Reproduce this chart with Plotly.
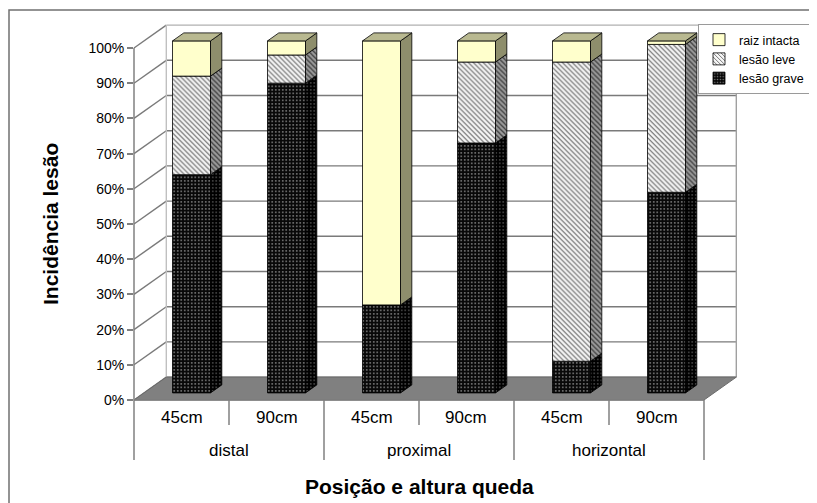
import plotly.graph_objects as go

# ---------------- data ----------------
categories = ["45cm", "90cm", "45cm", "90cm", "45cm", "90cm"]
groups = ["distal", "proximal", "horizontal"]
series_names = ["lesão grave", "lesão leve", "raiz intacta"]
grave = [62, 88, 25, 71, 9, 57]
leve = [28, 8, 0, 23, 85, 42]
intacta = [10, 4, 75, 6, 6, 1]
y_ticks = [0, 10, 20, 30, 40, 50, 60, 70, 80, 90, 100]
y_tick_labels = [f"{v}%" for v in y_ticks]
x_title = "Posição e altura queda"
y_title = "Incidência lesão"

# ---------------- geometry / style ----------------
W, H = 817, 503             # target window
OFF = 8                     # default page body margin
FW, FH = W - OFF, H - OFF   # figure size so that it fits the window
n = len(categories)
DX, DY = 0.34, 6.5          # depth of the 3D box (x in category units, y in %)
A, B = 0.31, 0.66           # bar front / back depth fraction
BW = 0.4                    # bar width (category units)
X_LO, X_HI = -0.5, n - 0.5 + DX
Y_LO, Y_HI = 0, 100 + DY
PX0, PXU = 134, 95          # window pixel of x=-0.5, pixels per category
PY0, PYU = 400, 3.52        # window pixel of y=0, pixels per %


def xpix(p):
    return (p - OFF) / FW


def ypix(p):
    return (H - p) / FH


dom_x = [xpix(PX0), xpix(PX0 + (X_HI - X_LO) * PXU)]
dom_y = [ypix(PY0), ypix(PY0 - (Y_HI - Y_LO) * PYU)]


def px(x):
    return dom_x[0] + (x - X_LO) / (X_HI - X_LO) * (dom_x[1] - dom_x[0])


def py(y):
    return dom_y[0] + (y - Y_LO) / (Y_HI - Y_LO) * (dom_y[1] - dom_y[0])


FONT = "Arial, Liberation Sans, sans-serif"
GRID = "#7a7a7a"

styles = {
    "lesão grave": dict(
        front=dict(shape=".", bgcolor="#080808", fgcolor="#7d7d7d", size=3.5, solidity=0.22),
        side=dict(shape=".", bgcolor="#000000", fgcolor="#4a4a4a", size=3.5, solidity=0.22),
        sidecolor="#000000", top="#3a3a3a"),
    "lesão leve": dict(
        front=dict(shape="\\", bgcolor="#f7f7f7", fgcolor="#606060", size=3.5, solidity=0.3),
        side=dict(shape="\\", bgcolor="#9c9c9c", fgcolor="#3a3a3a", size=3.5, solidity=0.35),
        sidecolor="#9c9c9c", top="#c8c8c8"),
    "raiz intacta": dict(front=None, color="#FFFFCC", side=None,
                         sidecolor="#8E8E6C", top="#B9B991"),
}

fig = go.Figure()

values = [grave, leve, intacta]
cum = [0] * n
xs = [i + A * DX for i in range(n)]
top_series = [None] * n
for name, vals in zip(series_names, values):
    st = styles[name]
    base = [c + A * DY for c in cum]
    marker = dict(line=dict(color="#000000", width=0.8))
    if st["front"] is not None:
        marker["color"] = st["front"]["bgcolor"]
        marker["pattern"] = dict(st["front"], fillmode="replace")
    else:
        marker["color"] = st["color"]
    fig.add_trace(go.Bar(x=xs, y=vals, base=base, width=BW, name=name,
                         marker=marker, hoverinfo="skip"))
    # right side faces
    sx, sy = [], []
    for i in range(n):
        if vals[i] <= 0:
            continue
        lo, hi = cum[i], cum[i] + vals[i]
        xr = i + BW / 2 + A * DX
        xr2 = i + BW / 2 + B * DX
        y0, y1 = lo + A * DY, hi + A * DY
        d = (B - A) * DY
        sx += [xr, xr2, xr2, xr, xr, None]
        sy += [y0, y0 + d, y1 + d, y1, y0, None]
        top_series[i] = name
    sc = dict(x=sx, y=sy, fill="toself", mode="lines",
              line=dict(color="#000000", width=0.8),
              fillcolor=st["sidecolor"], showlegend=False, hoverinfo="skip")
    if st["side"] is not None:
        sc["fillpattern"] = dict(st["side"], fillmode="replace")
    fig.add_trace(go.Scatter(**sc))
    cum = [c + v for c, v in zip(cum, vals)]

# top faces
for name in series_names:
    tx, ty = [], []
    for i in range(n):
        if top_series[i] != name:
            continue
        xl = i - BW / 2 + A * DX
        xr = i + BW / 2 + A * DX
        t = cum[i] + A * DY
        ddx, ddy = (B - A) * DX, (B - A) * DY
        tx += [xl, xr, xr + ddx, xl + ddx, xl, None]
        ty += [t, t, t + ddy, t + ddy, t, None]
    if tx:
        fig.add_trace(go.Scatter(x=tx, y=ty, fill="toself", mode="lines",
                                 line=dict(color="#000000", width=0.8),
                                 fillcolor=styles[name]["top"],
                                 showlegend=False, hoverinfo="skip"))

# ---------------- frame shapes ----------------
shapes = []
for v in y_ticks:
    shapes.append(dict(type="line", xref="paper", yref="paper", layer="below",
                       x0=px(X_LO + DX), x1=px(X_HI), y0=py(v + DY), y1=py(v + DY),
                       line=dict(color=GRID if v < 100 else "#b0b0b0", width=1.4)))
    shapes.append(dict(type="line", xref="paper", yref="paper", layer="below",
                       x0=px(X_LO), x1=px(X_LO + DX), y0=py(v), y1=py(v + DY),
                       line=dict(color=GRID, width=1.4)))
shapes.append(dict(type="line", xref="paper", yref="paper", layer="below",
                   x0=px(X_LO + DX), x1=px(X_LO + DX), y0=py(DY), y1=py(100 + DY),
                   line=dict(color="#c0c0c0", width=1.4)))
shapes.append(dict(type="line", xref="paper", yref="paper", layer="below",
                   x0=px(X_HI), x1=px(X_HI), y0=py(DY), y1=py(100 + DY),
                   line=dict(color="#a0a0a0", width=1.4)))
xf0, xf1 = px(X_LO), px(n - 0.5)
xb0, xb1 = px(X_LO + DX), px(X_HI)
yf, yb = py(0), py(DY)
shapes.append(dict(type="path", xref="paper", yref="paper", layer="below",
                   path=f"M {xf0},{yf} L {xf1},{yf} L {xb1},{yb} L {xb0},{yb} Z",
                   fillcolor="#808080", line=dict(color="#6a6a6a", width=1)))
shapes.append(dict(type="line", xref="paper", yref="paper",
                   x0=px(X_LO), x1=px(X_LO), y0=py(0), y1=py(100),
                   line=dict(color="#808080", width=1.5)))
shapes.append(dict(type="line", xref="paper", yref="paper",
                   x0=xf0, x1=xf1, y0=yf, y1=yf,
                   line=dict(color="#808080", width=1.5)))
for k in range(n + 1):
    xk = px(k - 0.5)
    bottom = 460 if k % 2 == 0 else 425
    shapes.append(dict(type="line", xref="paper", yref="paper",
                       x0=xk, x1=xk, y0=yf, y1=ypix(bottom),
                       line=dict(color="#808080", width=1.5)))
shapes.append(dict(type="rect", xref="paper", yref="paper",
                   x0=xpix(9), x1=1.05, y0=-0.05, y1=ypix(10),
                   line=dict(color="#707070", width=1.5), fillcolor="rgba(0,0,0,0)"))

# ---------------- annotations ----------------
ann = []
for i, c in enumerate(categories):
    ann.append(dict(x=px(i), y=ypix(417), xref="paper", yref="paper", text=c,
                    showarrow=False, xanchor="center", yanchor="middle",
                    font=dict(size=17, color="#000", family=FONT)))
for g, gname in enumerate(groups):
    ann.append(dict(x=px(2 * g + 0.5), y=ypix(450), xref="paper", yref="paper",
                    text=gname, showarrow=False, xanchor="center", yanchor="middle",
                    font=dict(size=17, color="#000", family=FONT)))
ann.append(dict(x=px(2.5), y=ypix(486), xref="paper", yref="paper",
                text=f"<b>{x_title}</b>", showarrow=False, xanchor="center",
                yanchor="middle", font=dict(size=21, color="#000", family=FONT)))
ann.append(dict(x=xpix(50), y=ypix(224), xref="paper", yref="paper",
                text=f"<b>{y_title}</b>", showarrow=False, textangle=-90,
                xanchor="center", yanchor="middle",
                font=dict(size=21, color="#000", family=FONT)))

fig.update_layout(
    template="none",
    width=FW, height=FH,
    margin=dict(l=0, r=0, t=0, b=0, autoexpand=False),
    paper_bgcolor="white", plot_bgcolor="rgba(0,0,0,0)",
    barmode="overlay",
    font=dict(family=FONT, color="#000"),
    xaxis=dict(domain=dom_x, range=[X_LO, X_HI], visible=False, fixedrange=True),
    yaxis=dict(domain=dom_y, range=[Y_LO, Y_HI], tickvals=y_ticks,
               ticktext=y_tick_labels, ticks="outside", ticklen=6,
               tickcolor="#808080", tickwidth=1.5, showgrid=False,
               zeroline=False, showline=False, automargin=False,
               tickfont=dict(size=14, color="#000", family=FONT)),
    shapes=shapes,
    annotations=ann,
    showlegend=True,
    legend=dict(x=xpix(698), y=ypix(24), xanchor="left", yanchor="top",
                bgcolor="white", bordercolor="#9a9a9a", borderwidth=1,
                font=dict(size=12.5, color="#000", family=FONT),
                traceorder="reversed", itemwidth=30, tracegroupgap=0),
)

fig.write_html("out.html")
